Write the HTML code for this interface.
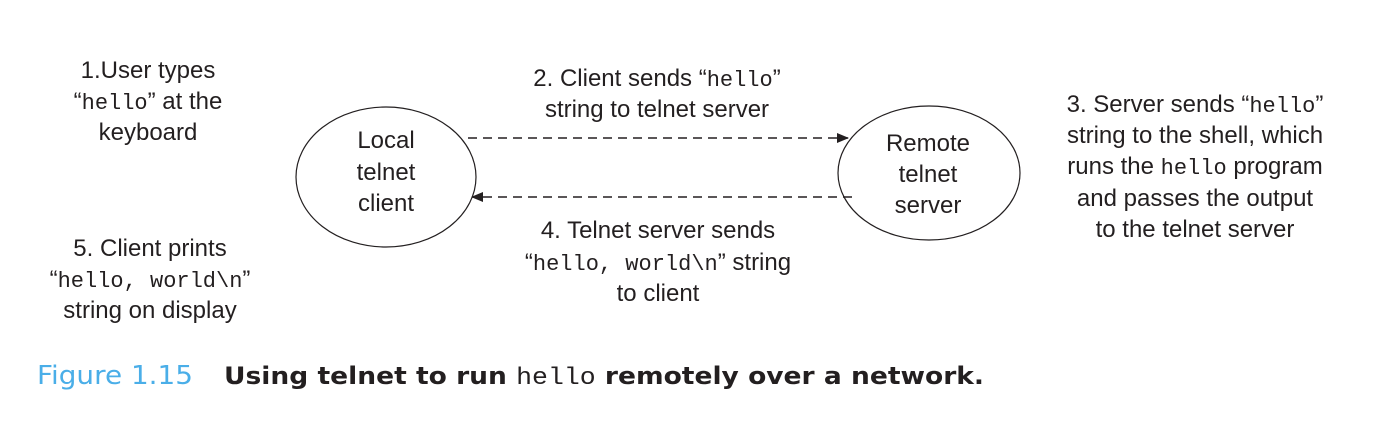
<!DOCTYPE html>
<html><head><meta charset="utf-8"><style>
html,body{margin:0;padding:0;background:#fff;}
svg{display:block}
.t{font-family:"Liberation Sans",sans-serif;font-size:24px;fill:#231f20;text-anchor:middle}
.m{font-family:"Liberation Mono",monospace;font-size:22px}
</style></head><body>
<svg width="1396" height="430" viewBox="0 0 1396 430">
<defs><marker id="a" markerWidth="12" markerHeight="10" refX="11" refY="5" orient="auto" markerUnits="userSpaceOnUse"><path d="M0,0 L12,5 L0,10 z" fill="#231f20"/></marker></defs>
<ellipse cx="386" cy="177" rx="90" ry="70" fill="none" stroke="#231f20" stroke-width="1.2"/>
<ellipse cx="929" cy="173" rx="91" ry="67" fill="none" stroke="#231f20" stroke-width="1.2"/>
<line x1="468" y1="138" x2="848" y2="138" stroke="#231f20" stroke-width="1.5" stroke-dasharray="9,6" marker-end="url(#a)"/>
<line x1="852" y1="197" x2="472" y2="197" stroke="#231f20" stroke-width="1.5" stroke-dasharray="9,6" marker-end="url(#a)"/>
<text class="t" x="386" y="148">Local</text><text class="t" x="386" y="180">telnet</text><text class="t" x="386" y="211">client</text>
<text class="t" x="928" y="151">Remote</text><text class="t" x="928" y="182">telnet</text><text class="t" x="928" y="213">server</text>
<text class="t" x="148" y="78">1.User types</text>
<text class="t" x="148" y="109">“<tspan class="m">hello</tspan>” at the</text>
<text class="t" x="148" y="140">keyboard</text>
<text class="t" x="657" y="86">2. Client sends “<tspan class="m">hello</tspan>”</text>
<text class="t" x="657" y="117">string to telnet server</text>
<text class="t" x="1195" y="112">3. Server sends “<tspan class="m">hello</tspan>”</text>
<text class="t" x="1195" y="143">string to the shell, which</text>
<text class="t" x="1195" y="174">runs the <tspan class="m">hello</tspan> program</text>
<text class="t" x="1195" y="206">and passes the output</text>
<text class="t" x="1195" y="237">to the telnet server</text>
<text class="t" x="150" y="256">5. Client prints</text>
<text class="t" x="150" y="287">“<tspan class="m">hello, world\n</tspan>”</text>
<text class="t" x="150" y="318">string on display</text>
<text class="t" x="658" y="238">4. Telnet server sends</text>
<text class="t" x="658" y="270">“<tspan class="m">hello, world\n</tspan>” string</text>
<text class="t" x="658" y="301">to client</text>
<text x="37" y="384" font-family="DejaVu Sans,sans-serif" font-size="26" fill="#4aaee8" textLength="156" lengthAdjust="spacingAndGlyphs">Figure 1.15</text>
<text x="224" y="384" font-family="DejaVu Sans,sans-serif" font-size="24" font-weight="bold" fill="#231f20" textLength="760" lengthAdjust="spacingAndGlyphs">Using telnet to run <tspan font-family="Liberation Mono,monospace" font-weight="normal">hello</tspan> remotely over a network.</text>
</svg>
</body></html>
